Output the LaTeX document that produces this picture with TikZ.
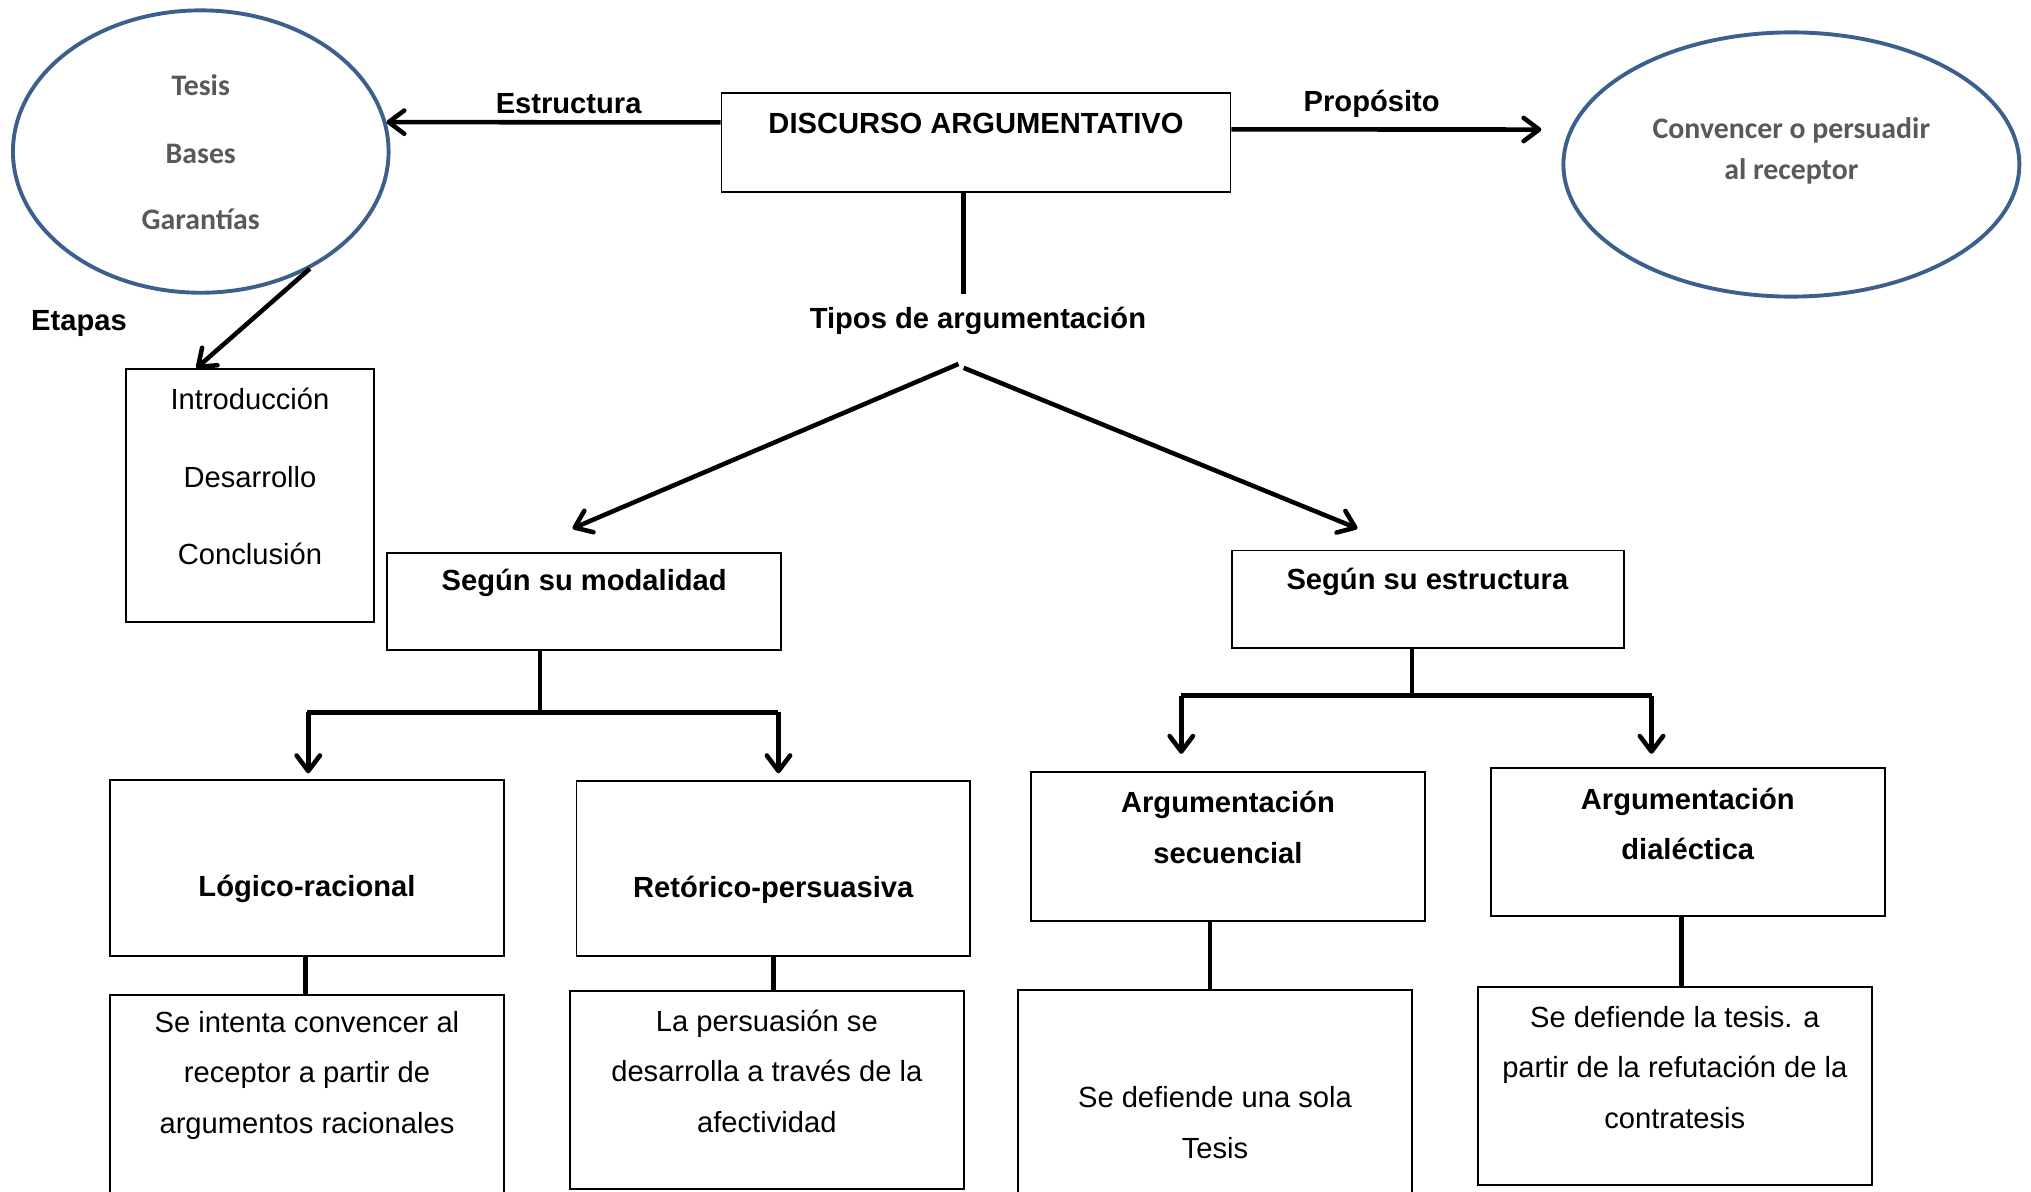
\documentclass[tikz,border=0pt]{standalone}
\usepackage{fontspec}
\setmainfont{Liberation Sans}
\newfontfamily\calib{Carlito}
\usetikzlibrary{arrows.meta,calc,shapes.geometric}
\definecolor{ellblue}{RGB}{60,96,142}
\definecolor{elltext}{RGB}{89,89,89}
\begin{document}
\begin{tikzpicture}[x=1pt,y=-1pt,
  every node/.style={font=\fontsize{22.5}{39}\selectfont},
  box/.style={draw, line width=1.4pt, inner sep=0pt},
  conn/.style={line width=3.5pt},
  arr/.style={line width=3.5pt, -{Straight Barb[length=12pt,width=18pt,round]}},
  oval/.style={draw=ellblue, line width=3pt, ellipse, inner sep=0pt},
  ovaltxt/.style={font=\calib\bfseries\fontsize{23}{32}\selectfont, text=elltext, align=center, inner sep=0pt, yshift=-1.5pt},
  lbl/.style={font=\bfseries\fontsize{22.5}{39}\selectfont, inner sep=0pt, align=center, yshift=-2pt},
  txt/.style={font=\fontsize{22.5}{39}\selectfont, inner sep=0pt, align=center, yshift=-2pt},
]
\clip (0,0) rectangle (1568,920);
\fill[white] (0,0) rectangle (1568,920);

% top box
\node[box, minimum width=393pt, minimum height=76pt] (disc) at (753.5,110) {};
\node[lbl] (disct) at (753.5,93) {DISCURSO ARGUMENTATIVO};

% left ellipse
\node[oval, minimum width=290pt, minimum height=218pt] (ell1) at (155,117) {};
\node[ovaltxt] (t1) at (155,64) {Tesis};
\node[ovaltxt] (t2) at (155,117) {Bases};
\node[ovaltxt] (t3) at (155,168) {Garantías};

% right ellipse
\node[oval, minimum width=352pt, minimum height=204pt] (ell2) at (1383,127) {};
\node[ovaltxt] (t4) at (1383,115) {Convencer o persuadir\\al receptor};

% labels
\node[lbl] (estr) at (439,78) {Estructura};
\node[lbl] (prop) at (1059,78) {Propósito};
\node[lbl] (etap) at (61,248) {Etapas};
\node[lbl] (tipos) at (755,246) {Tipos de argumentación};

% arrows top
\draw[arr] ($(disc.north west)!0.30!(disc.south west)$) -- (ell1.9);
\coordinate (propend) at (1190,100);
\draw[arr] ($(disc.north east)!0.37!(disc.south east)$) -- (propend);
\draw[conn] (disc.south -| 744,0) -- (744,227);

% etapas box
\node[box, minimum width=192pt, minimum height=195pt] (etbox) at (193,382.5) {};
\node[txt] (e1) at (193,306) {Introducción};
\node[txt] (e2) at (193,366) {Desarrollo};
\node[txt] (e3) at (193,426) {Conclusión};
\draw[arr] (ell1.-47) -- ($(etbox.north west)!0.286!(etbox.north east)$);

% split
\coordinate (tsplitL) at (740,281);
\coordinate (tsplitR) at (744,284);
\coordinate (modtip) at (442,408);
\coordinate (esttip) at (1048,408);
\draw[arr] (tsplitL) -- (modtip);
\draw[arr] (tsplitR) -- (esttip);

% second level boxes
\node[box, minimum width=304pt, minimum height=75pt] (mod) at (451,464.5) {};
\node[lbl] (modt) at (451,448) {Según su modalidad};
\node[box, minimum width=303pt, minimum height=75pt] (est) at (1102.5,462.5) {};
\node[lbl] (estt) at (1102,447) {Según su estructura};

% bus modalidad
\coordinate (mb) at (417,550);
\coordinate (mbl) at (237,550);
\coordinate (mbr) at (601,550);
\draw[conn] (mod.south -| mb) -- (mb);
\draw[conn] (mbl) -- (mbr);
\draw[arr] ([xshift=1pt]mbl) -- (238,597);
\draw[arr] (mbr) -- (601,597);

% bus estructura
\coordinate (eb) at (1090,537);
\coordinate (ebl) at (912,537);
\coordinate (ebr) at (1275,537);
\draw[conn] (est.south -| eb) -- (eb);
\draw[conn] (ebl) -- (ebr);
\draw[arr] (ebl) -- (912,582);
\draw[arr] (ebr) -- (1275,582);

% third level boxes
\node[box, minimum width=304pt, minimum height=136pt] (log) at (237,670) {};
\node[lbl] (logt) at (237,684) {Lógico-racional};
\node[box, minimum width=304pt, minimum height=135pt] (ret) at (597,670.5) {};
\node[lbl] (rett) at (597,685) {Retórico-persuasiva};
\node[box, minimum width=304pt, minimum height=115pt] (sec) at (948,653.5) {};
\node[lbl] (sect) at (948,637) {Argumentación\\secuencial};
\node[box, minimum width=304pt, minimum height=114pt] (dia) at (1303,650) {};
\node[lbl] (diat) at (1303,634) {Argumentación\\dialéctica};

% description boxes
\node[box, minimum width=304pt, minimum height=160pt] (logd) at (237,848) {};
\node[txt] (logdt) at (237,828) {Se intenta convencer al\\receptor a partir de\\argumentos racionales};
\node[box, minimum width=304pt, minimum height=153pt] (retd) at (592,841.5) {};
\node[txt] (retdt) at (592,825) {La persuasión se\\desarrolla a través de la\\afectividad};
\node[box, minimum width=304pt, minimum height=170pt] (secd) at (938,849) {};
\node[txt] (secdt) at (938,864.5) {Se defiende una sola\\Tesis};
\node[box, minimum width=304pt, minimum height=153pt] (diad) at (1293,838.5) {};
\node[txt] (diadt) at (1293,822) {Se defiende la tesis. a\\partir de la refutación de la\\contratesis};

% connectors
\draw[conn] (log.south -| 236,0) -- (logd.north -| 236,0);
\draw[conn] (ret.south -| 597,0) -- (retd.north -| 597,0);
\draw[conn] (sec.south -| 934,0) -- (secd.north -| 934,0);
\draw[conn] (dia.south -| 1298,0) -- (diad.north -| 1298,0);
\end{tikzpicture}
\end{document}
